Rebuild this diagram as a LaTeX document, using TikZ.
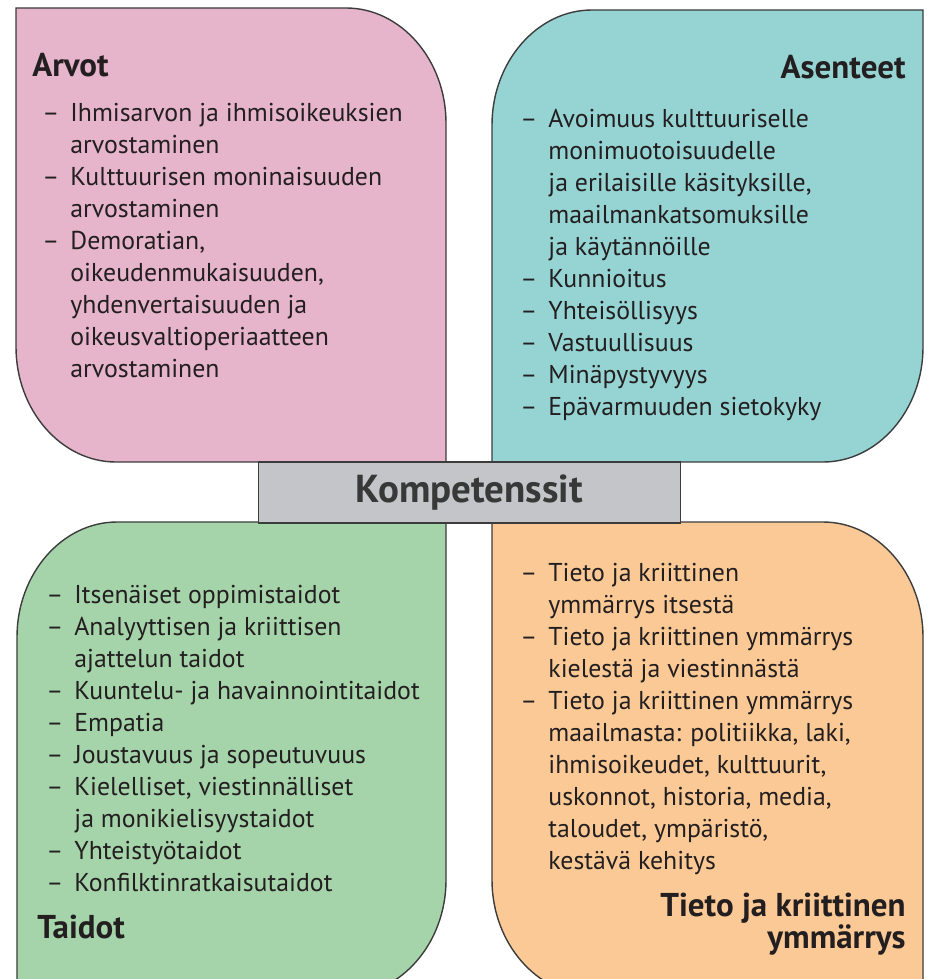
\documentclass[tikz,border=0pt]{standalone}
\usepackage{fontspec}
\setmainfont{PT Sans}
\usepackage{xcolor}
\usepackage{tikz}
\usetikzlibrary{positioning}

\definecolor{arvotpink}{RGB}{230,180,203}
\definecolor{asenteetteal}{RGB}{150,212,211}
\definecolor{taidotgreen}{RGB}{166,212,170}
\definecolor{tietoorange}{RGB}{251,201,149}
\definecolor{kompgray}{RGB}{196,197,200}
\definecolor{edgegray}{RGB}{60,60,60}
\definecolor{inkblack}{RGB}{35,31,32}

\newcommand{\dashitem}{\makebox[14pt][l]{–}}
\newcommand{\contline}{\makebox[14pt]{}}

\begin{document}
\begin{tikzpicture}[
    x=0.5pt, y=-0.5pt,
    quad_box/.style={draw=edgegray, line width=0.7pt},
    komp_box/.style={rectangle, draw=edgegray, fill=kompgray, line width=0.7pt, minimum width=211pt, minimum height=30.5pt, inner sep=0pt, font=\fontsize{19.5pt}{20pt}\selectfont\bfseries, text=black!78},
    item_list/.style={anchor=base west, align=left, inner sep=0pt, text=inkblack, font=\fontsize{12.9pt}{16pt}\selectfont},
    head_lbl/.style={inner sep=0pt, text=inkblack, font=\fontsize{16.5pt}{16pt}\selectfont\bfseries}
]
    \useasboundingbox (0,0) rectangle (926,979);
    \clip (0,0) rectangle (926,979);

    % Quadrants
    \draw[quad_box, fill=arvotpink] (16,8) -- (346,8) .. controls (401,8) and (446,60) .. (446,123)
        -- (446,462) -- (116,462) .. controls (61,462) and (16,410) .. (16,347) -- cycle;
    \draw[quad_box, fill=asenteetteal] (492,125) .. controls (492,62) and (537,10) .. (592,10)
        -- (923,10) -- (923,347) .. controls (923,410) and (878,462) .. (823,462) -- (492,462) -- cycle;
    \draw[quad_box, fill=taidotgreen] (17,637) .. controls (17,574) and (62,522) .. (117,522)
        -- (446,522) -- (446,880) .. controls (446,943) and (401,995) .. (346,995) -- (17,995) -- cycle;
    \draw[quad_box, fill=tietoorange] (492,522) -- (823,522) .. controls (878,522) and (923,574) .. (923,637)
        -- (923,995) -- (592,995) .. controls (537,995) and (492,943) .. (492,880) -- cycle;

    % Centre label
    \node[komp_box] (komp) at (469.5,492.5) {Kompetenssit};

    % Headings (base = last line)
    \node[head_lbl, anchor=base west] (arvot_head) at (32,77) {Arvot};
    \node[head_lbl, anchor=base east] (asenteet_head) at (906,79) {Asenteet};
    \node[head_lbl, anchor=base west] (taidot_head) at (37,938) {Taidot};
    \node[head_lbl, anchor=base east, align=right] (tieto_head) at (906,948) {Tieto ja kriittinen\\ymmärrys};

    % Lists (placed by their last baseline)
    \node[item_list] (arvot_list) at (42,377) {%
        \dashitem Ihmisarvon ja ihmisoikeuksien\\
        \contline arvostaminen\\
        \dashitem Kulttuurisen moninaisuuden\\
        \contline arvostaminen\\
        \dashitem Demoratian,\\
        \contline oikeudenmukaisuuden,\\
        \contline yhdenvertaisuuden ja\\
        \contline oikeusvaltioperiaatteen\\
        \contline arvostaminen};
    \node[item_list] (asenteet_list) at (520,415) {%
        \dashitem Avoimuus kulttuuriselle\\
        \contline monimuotoisuudelle\\
        \contline ja erilaisille käsityksille,\\
        \contline maailmankatsomuksille\\
        \contline ja käytännöille\\
        \dashitem Kunnioitus\\
        \dashitem Yhteisöllisyys\\
        \dashitem Vastuullisuus\\
        \dashitem Minäpystyvyys\\
        \dashitem Epävarmuuden sietokyky};
    \node[item_list] (taidot_list) at (46,891) {%
        \dashitem Itsenäiset oppimistaidot\\
        \dashitem Analyyttisen ja kriittisen\\
        \contline ajattelun taidot\\
        \dashitem Kuuntelu- ja havainnointitaidot\\
        \dashitem Empatia\\
        \dashitem Joustavuus ja sopeutuvuus\\
        \dashitem Kielelliset, viestinnälliset\\
        \contline ja monikielisyystaidot\\
        \dashitem Yhteistyötaidot\\
        \dashitem Konfilktinratkaisutaidot};
    \node[item_list] (tieto_list) at (520,869) {%
        \dashitem Tieto ja kriittinen\\
        \contline ymmärrys itsestä\\
        \dashitem Tieto ja kriittinen ymmärrys\\
        \contline kielestä ja viestinnästä\\
        \dashitem Tieto ja kriittinen ymmärrys\\
        \contline maailmasta: politiikka, laki,\\
        \contline ihmisoikeudet, kulttuurit,\\
        \contline uskonnot, historia, media,\\
        \contline taloudet, ympäristö,\\
        \contline kestävä kehitys};
\end{tikzpicture}
\end{document}
